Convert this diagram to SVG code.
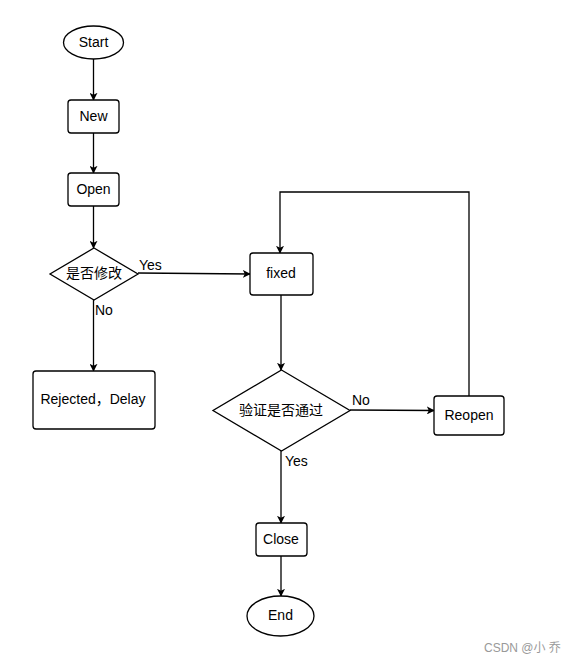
<svg xmlns="http://www.w3.org/2000/svg" width="577" height="664" viewBox="0 0 577 664">
<style>
.shape{fill:#fff;stroke:#000;stroke-width:1.3}
.edge{fill:none;stroke:#000;stroke-width:1.3}
text{font-family:"Liberation Sans","Noto Sans CJK SC",Arial,sans-serif;font-size:14px;fill:#000}
.c{text-anchor:middle;dominant-baseline:central}
.wm{font-size:12px;fill:#999}
</style>
<defs>
<marker id="arr" viewBox="0 0 10 10" refX="9" refY="5" markerWidth="8" markerHeight="8" markerUnits="userSpaceOnUse" orient="auto">
<path d="M0,0 L10,5 L0,10 L2.5,5 Z" fill="#000"/>
</marker>
</defs>
<rect width="577" height="664" fill="#fff"/>
<g id="connectors">
<path class="edge" d="M93.5,59 V100" marker-end="url(#arr)"/>
<path class="edge" d="M93.5,133 V173" marker-end="url(#arr)"/>
<path class="edge" d="M93.5,206 V248" marker-end="url(#arr)"/>
<path class="edge" d="M138,273 L250,274" marker-end="url(#arr)"/>
<path class="edge" d="M93.5,300 V371" marker-end="url(#arr)"/>
<path class="edge" d="M281,295 V370" marker-end="url(#arr)"/>
<path class="edge" d="M350,410 L434,410.5" marker-end="url(#arr)"/>
<path class="edge" d="M469,396 V192 H280 V253" marker-end="url(#arr)"/>
<path class="edge" d="M281,451 V523" marker-end="url(#arr)"/>
<path class="edge" d="M281,556 V596" marker-end="url(#arr)"/>
<text x="139" y="270">Yes</text>
<text x="95" y="315">No</text>
<text x="352" y="405">No</text>
<text x="285" y="466">Yes</text>
</g>
<g id="start">
<ellipse class="shape" cx="93.5" cy="42.5" rx="30" ry="16.5"/>
<text class="c" x="93.5" y="42">Start</text>
</g>
<g id="new">
<rect class="shape" x="68" y="100" width="51" height="33" rx="3"/>
<text class="c" x="93.5" y="116">New</text>
</g>
<g id="open">
<rect class="shape" x="68" y="173" width="51" height="33" rx="3"/>
<text class="c" x="93.5" y="189">Open</text>
</g>
<g id="modify">
<path class="shape" d="M94,248 L138,274 L94,300 L50,274 Z"/>
<text class="c" x="94" y="273">是否修改</text>
</g>
<g id="rejected">
<rect class="shape" x="33" y="371" width="122" height="58" rx="3"/>
<text class="c" x="93" y="399">Rejected，Delay</text>
</g>
<g id="fixed">
<rect class="shape" x="250" y="253" width="63" height="42" rx="3"/>
<text class="c" x="281" y="273">fixed</text>
</g>
<g id="verify">
<path class="shape" d="M281.5,370 L350,410.5 L281.5,451 L213,410.5 Z"/>
<text class="c" x="281" y="409.5">验证是否通过</text>
</g>
<g id="reopen">
<rect class="shape" x="434" y="396" width="70" height="39" rx="3"/>
<text class="c" x="469" y="415">Reopen</text>
</g>
<g id="close">
<rect class="shape" x="256" y="523" width="51" height="33" rx="3"/>
<text class="c" x="281" y="539">Close</text>
</g>
<g id="end">
<ellipse class="shape" cx="280.5" cy="616" rx="33.5" ry="20"/>
<text class="c" x="280.5" y="615">End</text>
</g>
<text class="wm" x="484" y="652">CSDN @小 乔</text>
</svg>
